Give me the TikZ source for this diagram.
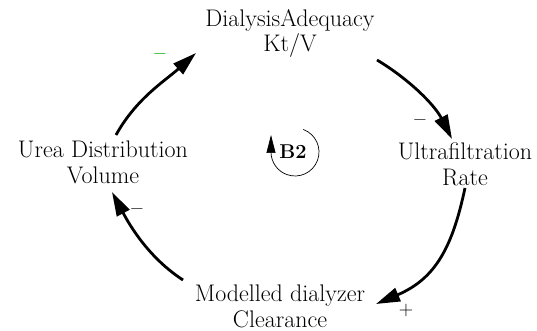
\documentclass[tikz,border=0pt]{standalone}
\usetikzlibrary{arrows.meta}
\definecolor{signgreen}{RGB}{0,165,0}
\tikzset{
  var/.style={inner sep=0pt, align=center, font=\fontsize{24}{25.5}\selectfont},
  link/.style={line width=2.8pt, -{Triangle[length=24pt,width=14pt]}},
  sign/.style={inner sep=0pt, font=\fontsize{20}{22}\selectfont},
  loopline/.style={line width=0.7pt, -{Triangle[length=18pt,width=9pt]}},
  looplabel/.style={inner sep=0pt, font=\fontsize{20}{22}\selectfont\bfseries}
}
\begin{document}
\begin{tikzpicture}[x=1pt,y=1pt]
\useasboundingbox (0,0) rectangle (537,331);
\node[var] (dial) at (290,297.6) {DialysisAdequacy\\Kt/V};
\node[var] (uf) at (465,166.6) {Ultrafiltration\\Rate};
\node[var] (mod) at (280,24.6) {Modelled dialyzer\\Clearance};
\node[var] (urea) at (103,168.6) {Urea Distribution\\Volume};

\draw[link] ([shift={(87,-26.6)}]dial.center) .. controls +(32.6,-19.6) and +(-17.3,33.9) .. ([shift={(-13,25.4)}]uf.center);
\draw[link] ([shift={(0,-23.6)}]uf.center) .. controls +(-12.5,-58.7) and +(59.8,25.4) .. ([shift={(96,2.4)}]mod.center);
\draw[link] ([shift={(-97,26.4)}]mod.center) .. controls +(-33.5,21.8) and +(18.8,-35.3) .. ([shift={(9,-29.6)}]urea.center);
\draw[link] ([shift={(13,27.4)}]urea.center) .. controls +(20.4,36.7) and +(-31.2,-28.1) .. ([shift={(-94,-19.6)}]dial.center);

\node[sign] (s1) at (420,208) {\bfseries --};
\node[sign] (s2) at (406,20) {+};
\node[sign] (s3) at (137,119) {\bfseries --};
\node[sign, text=signgreen] (s4) at (160,274) {\bfseries --};

\coordinate (lc) at (295,179);
\node[looplabel] (b2) at (293,179) {B2};
\draw[loopline] ([shift={(70:24)}]lc) arc[start angle=70, end angle=-180, radius=24] -- ++(0,17);
\end{tikzpicture}
\end{document}
